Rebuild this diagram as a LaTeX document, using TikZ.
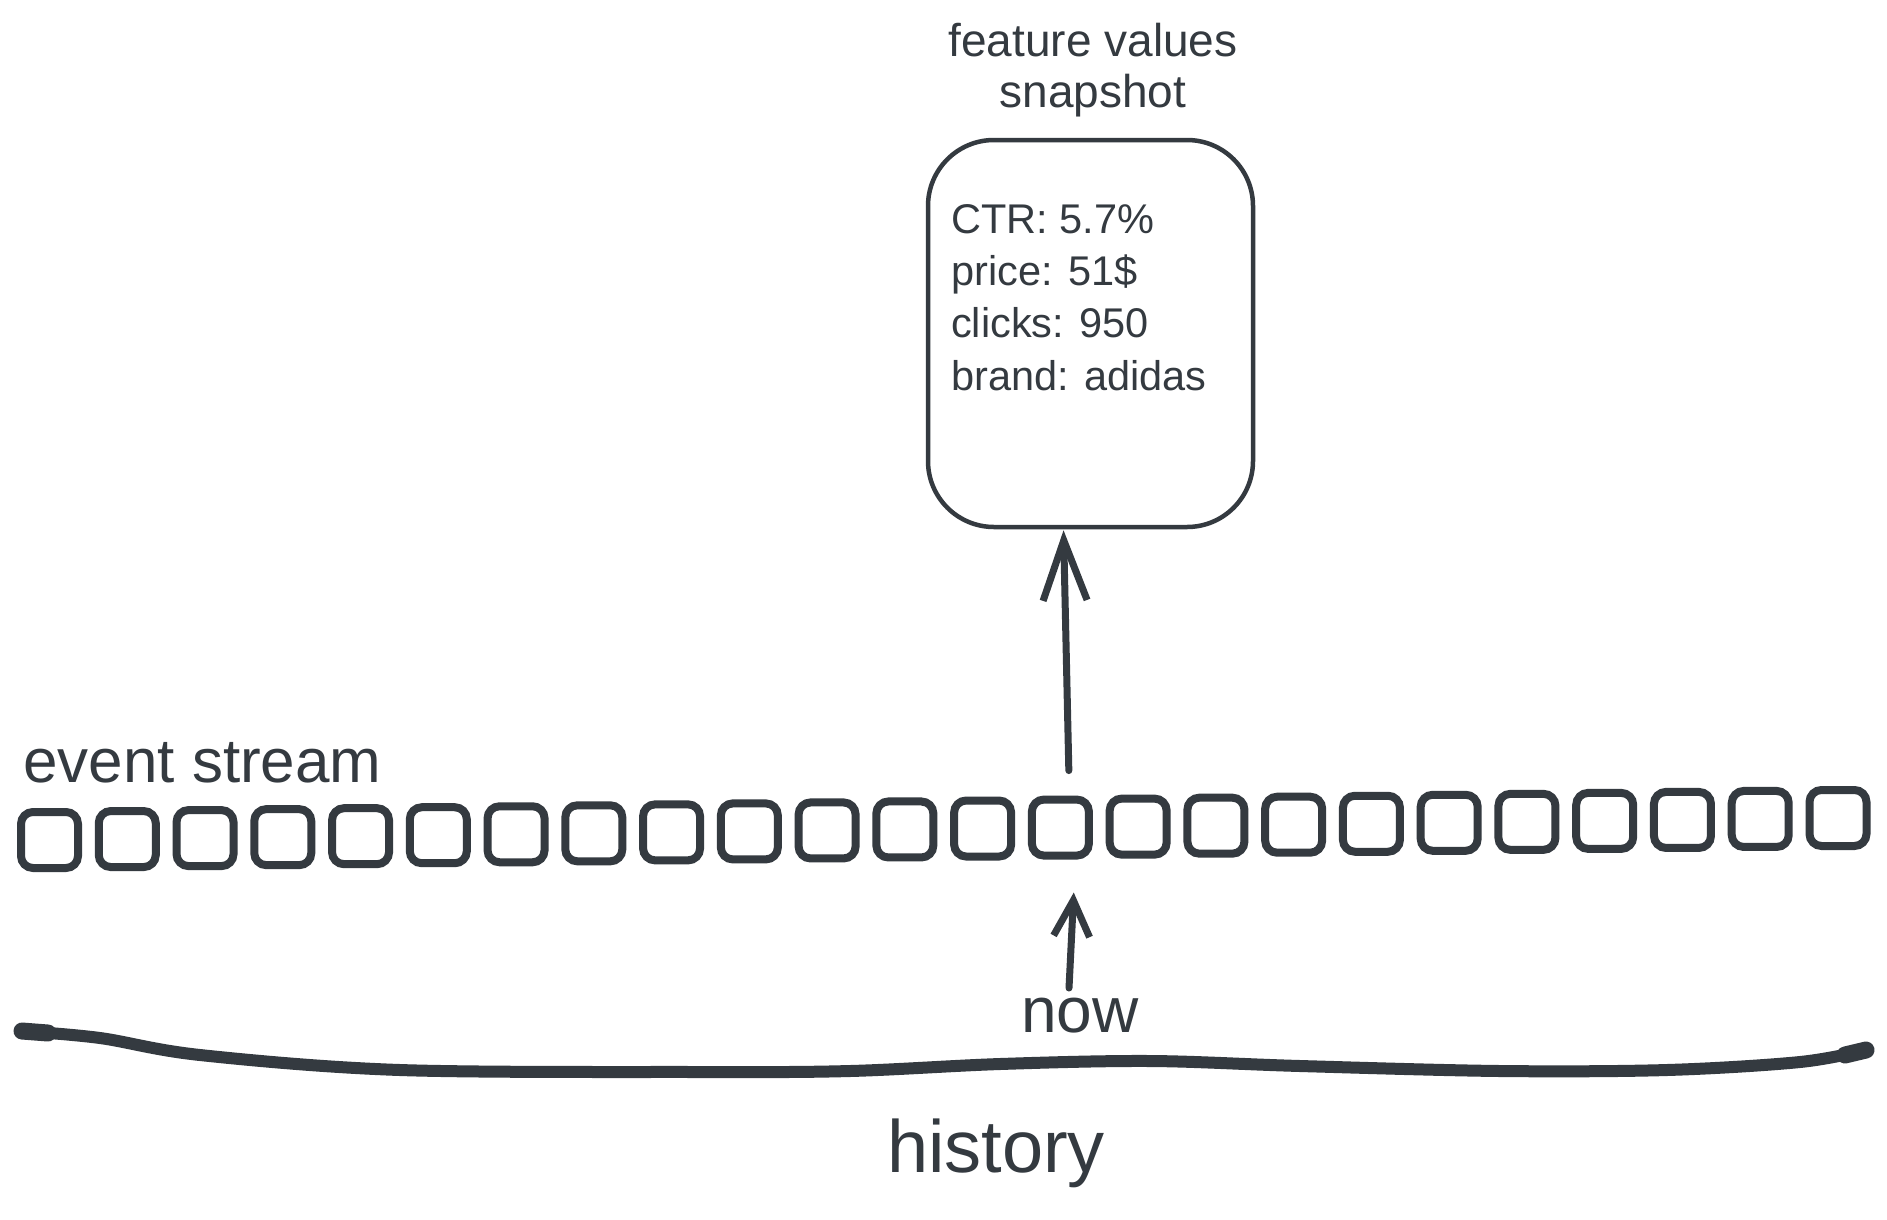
\documentclass[tikz,border=0pt]{standalone}
\usepackage{fontspec}
\setmainfont{Liberation Sans}
\usetikzlibrary{arrows.meta}
\definecolor{ink}{RGB}{52,58,64}
\tikzset{
  evbox/.style={draw=ink, line width=8pt, rounded corners=12pt, minimum width=57pt, minimum height=56pt, inner sep=0pt},
  snapbox/.style={draw=ink, line width=4.5pt, rounded corners=66pt, minimum width=325pt, minimum height=387pt, inner sep=0pt},
  arr/.style={draw=ink, line width=7pt, line cap=round, -{Straight Barb[length=60pt, width=44pt]}},
  smallarr/.style={draw=ink, line width=7pt, line cap=round, -{Straight Barb[length=36pt, width=36pt]}},
  lbl/.style={text=ink, inner sep=0pt},
  boxtxt/.style={lbl, anchor=base west, font=\fontsize{41.5}{52}\selectfont},
}
\begin{document}
\begin{tikzpicture}[x=1pt, y=-1pt]
\useasboundingbox[fill=white] (0,0) rectangle (1887,1219);

% title
\node[lbl, align=center, font=\fontsize{46}{51}\selectfont] (title) at (1093,70) {feature values\\snapshot};

% snapshot box
\node[snapbox] (snap) at (1090.5,333.5) {};
\node[boxtxt] (l1) at (951,233) {CTR: 5.7\%};
\node[boxtxt] (l2) at (951,285) {price: 51\$};
\node[boxtxt] (l3) at (951,337) {clicks: 950};
\node[boxtxt] (l4) at (951,390) {brand: adidas};

% event stream
\node[lbl, anchor=base west, font=\fontsize{62}{64}\selectfont] (es) at (23,782) {event stream};
\foreach \i in {1,...,24}{
  \node[evbox] (s\i) at ({49.5+(\i-1)*77.76},{840-(\i-1)*22/23}) {};
}

% arrow to snapshot
\draw[arr, shorten <=25pt, shorten >=1pt] ([xshift=9pt]s14.north) -- ([xshift=-27pt]snap.south);

% now
\node[lbl, anchor=base, font=\fontsize{64}{66}\selectfont] (now) at (1080,1032) {now};
\coordinate (nowtail) at (1069,988);
\draw[smallarr, shorten >=33pt] (nowtail) -- ([xshift=15pt]s14.south);

% timeline
\draw[ink, line width=12pt, line cap=round, line join=round]
  plot[smooth, tension=0.55] coordinates {(22,1031) (100,1038) (200,1055) (400,1070) (700,1072) (850,1071) (1000,1064) (1150,1061) (1300,1066) (1500,1071) (1667,1070) (1800,1062) (1866,1050)};
\draw[ink, line width=17pt, line cap=round] (22,1031) -- (48,1033);
\draw[ink, line width=17pt, line cap=round] (1845,1055) -- (1866,1050);

% history
\node[lbl, anchor=base, font=\fontsize{74}{76}\selectfont] (hist) at (996,1172) {history};
\end{tikzpicture}
\end{document}
